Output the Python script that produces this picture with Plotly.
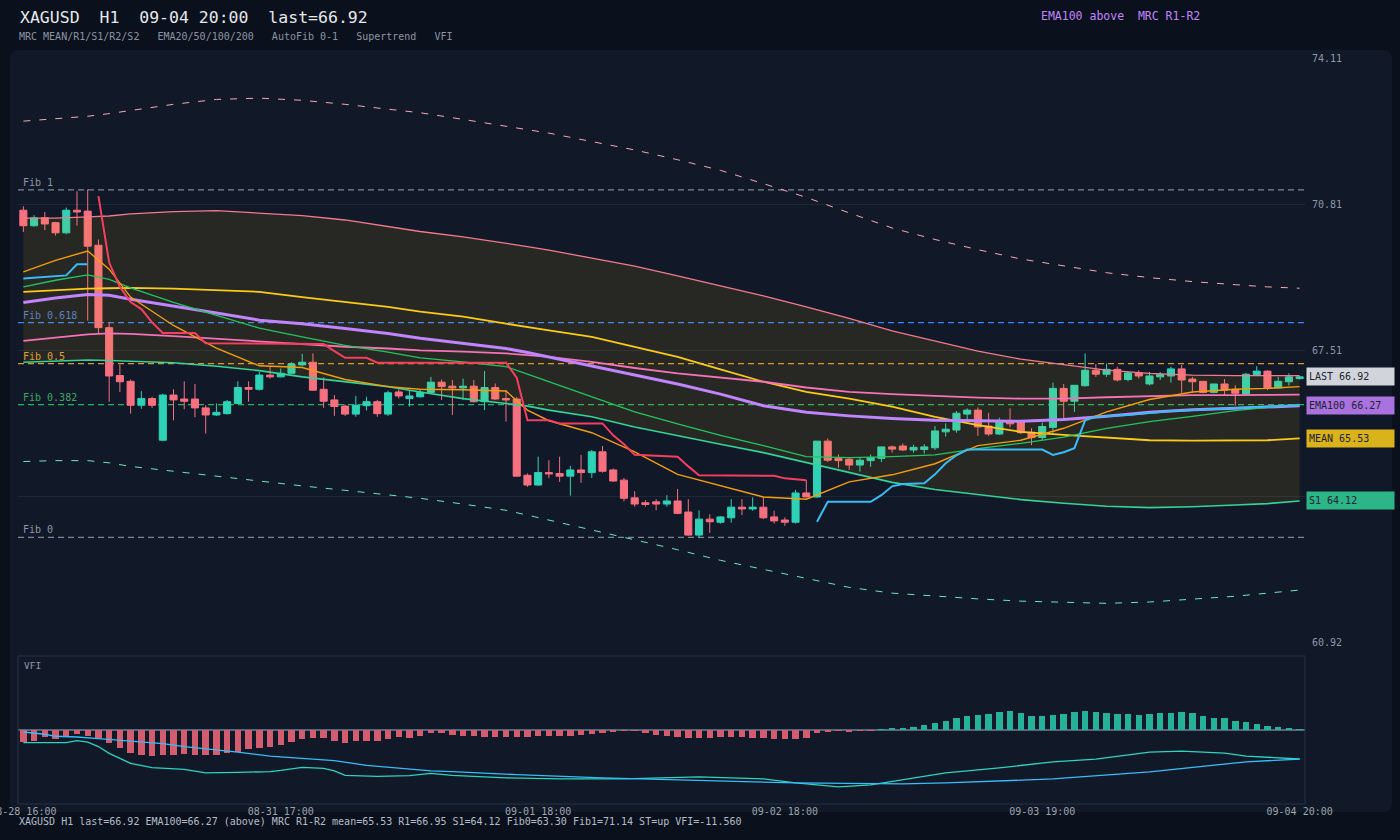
import plotly.graph_objects as go

W, H = 1400, 840
MONO = "DejaVu Sans Mono"

# ---------------- data ----------------
opens = [70.68, 70.33, 70.51, 70.40, 70.17, 70.68, 70.66, 69.89, 68.03, 66.95,
         66.82, 66.28, 66.43, 65.49, 66.51, 66.42, 66.42, 66.22, 66.06, 66.09,
         66.32, 66.68, 66.64, 66.96, 66.92, 67.00, 67.19, 67.25, 66.64, 66.40,
         66.26, 66.08, 66.27, 66.36, 66.08, 66.58, 66.43, 66.47, 66.57, 66.80,
         66.71, 66.67, 66.71, 66.36, 66.68, 66.43, 66.42, 64.70, 64.48, 64.76,
         64.74, 64.68, 64.82, 64.76, 65.23, 64.82, 64.59, 64.19, 64.08, 64.10,
         64.05, 64.12, 63.87, 63.35, 63.71, 63.64, 63.74, 63.98, 63.94, 63.98,
         63.76, 63.69, 63.64, 64.30, 64.21, 65.47, 65.08, 65.06, 64.93, 65.03,
         65.08, 65.34, 65.36, 65.27, 65.28, 65.32, 65.68, 65.72, 66.08, 66.17,
         65.81, 65.63, 65.91, 65.91, 65.67, 65.55, 65.78, 66.66, 66.37, 66.72,
         67.07, 66.98, 67.09, 66.86, 67.01, 66.76, 66.92, 66.94, 67.10, 66.87,
         66.82, 66.57, 66.76, 66.64, 66.53, 66.97, 67.05, 66.67, 66.81, 66.88]
highs = [70.77, 70.57, 70.64, 70.42, 70.74, 71.11, 71.15, 70.02, 68.16, 67.20,
         66.86, 66.60, 66.47, 66.54, 66.64, 66.82, 66.76, 66.28, 66.32, 66.40,
         66.82, 66.82, 67.03, 67.15, 67.11, 67.25, 67.44, 67.45, 66.91, 66.51,
         66.30, 66.49, 66.47, 66.40, 66.61, 66.64, 66.61, 66.64, 66.92, 66.86,
         66.85, 66.88, 66.85, 67.05, 66.77, 66.62, 66.47, 64.74, 65.12, 65.04,
         65.12, 64.91, 65.16, 65.27, 65.36, 64.85, 64.64, 64.34, 64.14, 64.16,
         64.25, 64.39, 64.16, 63.91, 63.82, 63.77, 64.16, 64.16, 64.20, 64.22,
         63.90, 63.75, 64.37, 64.59, 65.47, 65.53, 65.17, 65.10, 65.10, 65.17,
         65.34, 65.37, 65.42, 65.39, 65.40, 65.81, 65.87, 66.15, 66.21, 66.23,
         66.11, 66.00, 66.21, 65.91, 65.76, 65.89, 66.79, 66.76, 66.73, 67.45,
         67.21, 67.22, 67.15, 67.03, 67.07, 67.03, 67.03, 67.15, 67.19, 66.92,
         66.82, 66.76, 66.87, 66.73, 67.01, 67.16, 67.07, 66.92, 67.00, 66.94]
lows = [70.19, 70.31, 70.23, 70.11, 70.14, 70.33, 68.19, 67.90, 66.36, 66.58,
        66.09, 66.20, 66.22, 65.48, 65.94, 66.19, 66.01, 65.64, 66.04, 66.07,
        66.31, 66.36, 66.61, 66.88, 66.91, 66.98, 67.16, 66.61, 66.22, 66.04,
        66.04, 66.02, 66.16, 66.02, 66.04, 66.43, 66.25, 66.45, 66.55, 66.40,
        66.06, 66.40, 66.34, 66.17, 66.40, 65.91, 64.67, 64.44, 64.46, 64.64,
        64.55, 64.24, 64.53, 64.64, 64.76, 64.55, 64.11, 63.99, 63.99, 63.91,
        63.99, 63.82, 63.34, 63.28, 63.40, 63.61, 63.63, 63.80, 63.90, 63.71,
        63.61, 63.56, 63.61, 64.20, 64.19, 65.00, 64.87, 64.82, 64.78, 64.89,
        65.00, 65.21, 65.25, 65.21, 65.19, 65.27, 65.57, 65.66, 65.93, 65.59,
        65.59, 65.61, 65.78, 65.63, 65.38, 65.49, 65.63, 65.94, 66.13, 66.70,
        66.92, 66.92, 66.82, 66.82, 66.88, 66.73, 66.85, 66.79, 66.56, 66.56,
        66.55, 66.55, 66.51, 66.27, 66.51, 66.94, 66.62, 66.66, 66.72, 66.86]
closes = [70.33, 70.51, 70.37, 70.17, 70.68, 70.64, 69.87, 68.03, 66.94, 66.81,
          66.28, 66.43, 66.28, 66.51, 66.40, 66.37, 66.22, 66.06, 66.12, 66.36,
          66.68, 66.64, 66.96, 66.92, 67.00, 67.21, 67.25, 66.62, 66.37, 66.25,
          66.08, 66.28, 66.36, 66.09, 66.56, 66.49, 66.49, 66.57, 66.80, 66.70,
          66.67, 66.71, 66.36, 66.68, 66.42, 66.40, 64.68, 64.48, 64.76, 64.73,
          64.68, 64.82, 64.76, 65.23, 64.79, 64.57, 64.18, 64.05, 64.04, 64.05,
          64.12, 63.84, 63.35, 63.71, 63.65, 63.76, 63.98, 63.94, 63.98, 63.74,
          63.67, 63.64, 64.30, 64.21, 65.47, 65.04, 65.03, 64.93, 65.04, 65.10,
          65.34, 65.29, 65.27, 65.33, 65.34, 65.70, 65.74, 66.10, 66.17, 65.79,
          65.63, 65.91, 65.86, 65.66, 65.55, 65.80, 66.66, 66.37, 66.73, 67.07,
          66.98, 67.09, 66.85, 67.01, 66.94, 66.94, 66.97, 67.10, 66.85, 66.81,
          66.57, 66.76, 66.62, 66.55, 66.98, 67.05, 66.66, 66.82, 66.92, 66.92]
bars = list(range(len(closes)))

tick_idx = [0, 24, 48, 71, 95, 119]
tick_text = ["08-28 16:00", "08-31 17:00", "09-01 18:00", "09-02 18:00", "09-03 19:00", "09-04 20:00"]

# sample bars for indicator lines
ix = [0, 3, 6, 8, 10, 14, 18, 22, 26, 30, 34, 37, 41, 45, 47, 49, 53, 57, 61, 65,
      69, 73, 77, 81, 85, 89, 93, 97, 101, 105, 109, 113, 116, 119]
ema20 = [69.29, 69.55, 69.76, 69.35, 68.72, 68.08, 67.57, 67.17, 67.13, 66.86,
         66.70, 66.64, 66.63, 66.60, 66.17, 65.93, 65.66, 65.23, 64.72, 64.46,
         64.21, 64.16, 64.55, 64.71, 64.96, 65.37, 65.49, 65.76, 66.13, 66.41,
         66.58, 66.64, 66.66, 66.70]
ema50 = [68.95, 69.10, 69.22, 69.12, 68.93, 68.60, 68.31, 68.02, 67.82, 67.63,
         67.48, 67.35, 67.26, 67.15, 66.98, 66.81, 66.46, 66.13, 65.86, 65.60,
         65.37, 65.12, 65.10, 65.12, 65.16, 65.30, 65.42, 65.56, 65.76, 65.91,
         66.03, 66.16, 66.23, 66.30]
ema100 = [68.60, 68.70, 68.78, 68.76, 68.67, 68.52, 68.36, 68.20, 68.12, 68.01,
          67.90, 67.79, 67.67, 67.56, 67.47, 67.37, 67.16, 66.97, 66.76, 66.53,
          66.27, 66.12, 66.04, 65.98, 65.94, 65.93, 65.92, 65.96, 66.03, 66.12,
          66.18, 66.21, 66.24, 66.27]
ema200 = [67.73, 67.80, 67.88, 67.90, 67.89, 67.84, 67.78, 67.71, 67.65, 67.60,
          67.56, 67.52, 67.49, 67.45, 67.41, 67.37, 67.26, 67.12, 67.00, 66.90,
          66.81, 66.68, 66.58, 66.53, 66.49, 66.45, 66.43, 66.43, 66.46, 66.49,
          66.51, 66.51, 66.52, 66.52]
mrc_mean = [68.84, 68.88, 68.91, 68.92, 68.93, 68.91, 68.88, 68.84, 68.72, 68.61,
            68.50, 68.39, 68.28, 68.12, 68.05, 67.97, 67.82, 67.60, 67.37, 67.09,
            66.81, 66.58, 66.43, 66.25, 66.02, 65.83, 65.68, 65.61, 65.55, 65.49,
            65.48, 65.48, 65.49, 65.53]
mrc_r1 = [70.50, 70.50, 70.53, 70.55, 70.60, 70.65, 70.67, 70.62, 70.56, 70.46,
          70.32, 70.20, 70.08, 69.94, 69.86, 69.78, 69.60, 69.42, 69.20, 68.98,
          68.75, 68.50, 68.24, 67.96, 67.73, 67.50, 67.32, 67.19, 67.07, 67.00,
          66.96, 66.95, 66.95, 66.95]
mrc_s1 = [67.25, 67.28, 67.30, 67.29, 67.27, 67.24, 67.16, 67.06, 66.92, 66.81,
          66.70, 66.58, 66.43, 66.32, 66.26, 66.17, 66.02, 65.79, 65.59, 65.40,
          65.21, 64.99, 64.76, 64.54, 64.38, 64.26, 64.15, 64.07, 64.00, 63.97,
          63.99, 64.03, 64.06, 64.12]
mrc_r2 = [72.69, 72.74, 72.80, 72.86, 72.93, 73.07, 73.18, 73.21, 73.16, 73.07,
          72.96, 72.88, 72.73, 72.58, 72.50, 72.42, 72.23, 72.04, 71.82, 71.58,
          71.28, 70.97, 70.62, 70.28, 70.02, 69.79, 69.58, 69.43, 69.27, 69.16,
          69.07, 69.00, 68.95, 68.92]
mrc_s2 = [65.01, 65.03, 65.03, 64.98, 64.90, 64.79, 64.67, 64.57, 64.46, 64.36,
          64.26, 64.18, 64.05, 63.91, 63.80, 63.69, 63.46, 63.25, 63.02, 62.78,
          62.58, 62.38, 62.17, 62.04, 61.97, 61.91, 61.86, 61.83, 61.81, 61.84,
          61.90, 61.97, 62.04, 62.11]

# supertrend segments
st_up1_x = [0, 1, 2, 3, 4, 5, 6]
st_up1 = [69.14, 69.16, 69.18, 69.19, 69.21, 69.46, 69.46]
st_dn_x = [7, 8, 9, 10, 11, 12, 13, 16, 17, 28, 29, 30, 32, 33, 45, 46, 47, 49,
           50, 54, 55, 56, 57, 61, 62, 63, 70, 71, 73]
st_dn = [71.00, 69.50, 68.95, 68.61, 68.45, 68.15, 67.91, 67.91, 67.68, 67.66,
         67.50, 67.35, 67.35, 67.24, 67.24, 66.90, 65.94, 65.94, 65.87, 65.87,
         65.60, 65.40, 65.16, 65.12, 64.90, 64.70, 64.69, 64.63, 64.59]
st_up2_x = [74, 75, 79, 80, 81, 82, 84, 85, 86, 87, 88, 95, 96, 97, 98, 99, 100,
            103, 107, 111, 115, 119]
st_up2 = [63.65, 64.10, 64.10, 64.25, 64.45, 64.50, 64.52, 64.72, 64.97, 65.15,
          65.28, 65.28, 65.16, 65.22, 65.31, 65.94, 66.02, 66.06, 66.15, 66.19,
          66.24, 66.28]

fib_levels = [63.30, 66.295, 67.22, 68.145, 71.14]
fib_names = ["Fib 0", "Fib 0.382", "Fib 0.5", "Fib 0.618", "Fib 1"]

price_ticks = [60.92, 64.21, 67.51, 70.81, 74.11]

# VFI panel
vfi_hist = [-4.6, -4.2, -2.9, -3.5, -2.7, -1.5, -2.3, -3.1, -5.0, -7.0,
            -9.0, -9.8, -10.2, -9.8, -9.8, -9.4, -9.8, -9.8, -9.8, -9.0,
            -8.8, -7.4, -7.0, -6.6, -5.8, -4.6, -3.5, -3.1, -3.1, -4.2,
            -5.0, -4.2, -4.2, -4.2, -3.5, -2.7, -3.1, -2.3, -1.1, -1.1,
            -2.0, -2.2, -2.5, -2.6, -2.8, -2.8, -2.6, -2.6, -2.5, -2.5,
            -2.4, -2.2, -2.0, -1.6, -1.2, -0.6, -0.3, -0.3, -1.2, -2.0,
            -2.2, -2.6, -3.0, -3.2, -3.0, -2.8, -2.6, -2.8, -3.0, -3.2,
            -3.5, -3.6, -3.4, -3.0, -1.2, -0.6, -0.4, -0.6, -0.3, -0.2,
            0.2, 0.5, 0.8, 1.2, 2.0, 2.8, 3.6, 4.6, 5.4, 6.0,
            6.5, 7.2, 7.6, 6.8, 5.6, 5.4, 5.8, 6.4, 7.2, 7.4,
            7.2, 6.8, 6.4, 6.2, 6.0, 6.2, 6.6, 6.8, 7.0, 6.6,
            5.4, 4.8, 4.6, 3.6, 3.0, 2.4, 1.6, 1.0, 0.6, 0.4]
vfi_x = [0, 2, 4, 5, 6, 7, 8, 10, 11, 12, 15, 17, 20, 23, 24, 26, 28, 29, 30, 33,
         36, 38, 40, 45, 50, 56, 63, 69, 72, 76, 79, 82, 86, 91, 96, 100, 105, 108,
         112, 114, 119]
vfi_line = [-5.05, -5.0, -5.05, -4.25, -4.8, -6.6, -9.3, -13.3, -14.3, -15.0,
            -15.7, -17.1, -16.9, -16.6, -16.1, -14.9, -15.3, -16.3, -18.1, -18.5,
            -18.2, -17.3, -18.1, -19.1, -19.5, -19.5, -18.7, -19.5, -21.1, -22.7,
            -21.9, -19.9, -17.1, -15.1, -12.7, -11.6, -8.8, -8.4, -9.2, -10.4,
            -11.56]
sig_x = [0, 2, 3, 5, 7, 9, 11, 13, 15, 17, 20, 23, 26, 29, 32, 35, 38, 40, 46, 54,
         63, 72, 82, 86, 96, 105, 114, 119]
sig_line = [-0.8, -1.7, -2.5, -2.8, -3.45, -4.1, -4.6, -5.4, -6.6, -7.4,
            -8.8, -10.4, -11.3, -12.2, -14.1, -15.1, -16.3, -16.6, -17.8, -19.1,
            -20.2, -21.1, -21.5, -21.1, -19.5, -16.7, -12.7, -11.6]

# ---------------- styling ----------------
PAGE_BG = "#0b111c"
PANEL_BG = "#111827"
UP = "#2ed3b7"
DOWN = "#f6707f"


def px(x):
    return x / W


def py(y):
    return 1 - y / H


fig = go.Figure()

# MRC band (R1 -> S1 fill)
fig.add_trace(go.Scatter(x=ix, y=mrc_r1, mode="lines", line=dict(color="#f27a8c", width=1.3),
                         hoverinfo="skip", xaxis="x", yaxis="y"))
fig.add_trace(go.Scatter(x=ix, y=mrc_s1, mode="lines", line=dict(color="#34d399", width=1.6),
                         fill="tonexty", fillcolor="rgba(234,179,8,0.10)",
                         hoverinfo="skip", xaxis="x", yaxis="y"))
fig.add_trace(go.Scatter(x=ix, y=mrc_r2, mode="lines",
                         line=dict(color="#f9a8b4", width=1, dash="7px,9px"),
                         hoverinfo="skip", xaxis="x", yaxis="y"))
fig.add_trace(go.Scatter(x=ix, y=mrc_s2, mode="lines",
                         line=dict(color="#6ee7b7", width=1, dash="7px,9px"),
                         hoverinfo="skip", xaxis="x", yaxis="y"))
fig.add_trace(go.Scatter(x=ix, y=mrc_mean, mode="lines", line=dict(color="#facc15", width=1.8),
                         hoverinfo="skip", xaxis="x", yaxis="y"))
fig.add_trace(go.Scatter(x=ix, y=ema200, mode="lines", line=dict(color="#f472b6", width=1.8),
                         hoverinfo="skip", xaxis="x", yaxis="y"))
fig.add_trace(go.Scatter(x=ix, y=ema100, mode="lines", line=dict(color="#c084fc", width=3),
                         hoverinfo="skip", xaxis="x", yaxis="y"))
fig.add_trace(go.Scatter(x=ix, y=ema50, mode="lines", line=dict(color="#22c55e", width=1.3),
                         hoverinfo="skip", xaxis="x", yaxis="y"))
fig.add_trace(go.Scatter(x=ix, y=ema20, mode="lines", line=dict(color="#f59e0b", width=1.4),
                         hoverinfo="skip", xaxis="x", yaxis="y"))
# Supertrend
fig.add_trace(go.Scatter(x=st_up1_x, y=st_up1, mode="lines", line=dict(color="#38bdf8", width=2),
                         hoverinfo="skip", xaxis="x", yaxis="y"))
fig.add_trace(go.Scatter(x=st_dn_x, y=st_dn, mode="lines", line=dict(color="#f43f5e", width=2),
                         hoverinfo="skip", xaxis="x", yaxis="y"))
fig.add_trace(go.Scatter(x=st_up2_x, y=st_up2, mode="lines", line=dict(color="#38bdf8", width=2),
                         hoverinfo="skip", xaxis="x", yaxis="y"))

# candles
fig.add_trace(go.Candlestick(
    x=bars, open=opens, high=highs, low=lows, close=closes,
    increasing=dict(line=dict(color=UP, width=1), fillcolor=UP),
    decreasing=dict(line=dict(color=DOWN, width=1), fillcolor=DOWN),
    whiskerwidth=0, xaxis="x", yaxis="y", hoverinfo="skip"))

# VFI panel
fig.add_trace(go.Bar(x=bars, y=vfi_hist, width=0.6,
                     marker=dict(color=["#26b29a" if v >= 0 else "#d35d6e" for v in vfi_hist],
                                 line=dict(width=0)),
                     xaxis="x2", yaxis="y2", hoverinfo="skip"))
fig.add_trace(go.Scatter(x=vfi_x, y=vfi_line, mode="lines", line=dict(color="#2dd4bf", width=1.3),
                         xaxis="x2", yaxis="y2", hoverinfo="skip"))
fig.add_trace(go.Scatter(x=sig_x, y=sig_line, mode="lines", line=dict(color="#38bdf8", width=1.3),
                         xaxis="x2", yaxis="y2", hoverinfo="skip"))

# ---------------- shapes ----------------
r = 9
x0p, x1p, y0p, y1p = 10, 1392, 50, 812
panel_path = (
    f"M {px(x0p + r)},{py(y0p)} L {px(x1p - r)},{py(y0p)} Q {px(x1p)},{py(y0p)} {px(x1p)},{py(y0p + r)} "
    f"L {px(x1p)},{py(y1p - r)} Q {px(x1p)},{py(y1p)} {px(x1p - r)},{py(y1p)} "
    f"L {px(x0p + r)},{py(y1p)} Q {px(x0p)},{py(y1p)} {px(x0p)},{py(y1p - r)} "
    f"L {px(x0p)},{py(y0p + r)} Q {px(x0p)},{py(y0p)} {px(x0p + r)},{py(y0p)} Z"
)
shapes = [dict(type="path", path=panel_path, xref="paper", yref="paper",
               fillcolor=PANEL_BG, line=dict(width=0), layer="below")]

fib_line_colors = ["#7d8696", "#22b35e", "#d9962a", "#3b82f6", "#7d8696"]
fib_text_colors = ["#8f97a6", "#3aa865", "#e0a030", "#5b82c0", "#8f97a6"]
for lvl, col in zip(fib_levels, fib_line_colors):
    shapes.append(dict(type="line", xref="paper", yref="y", x0=px(18), x1=px(1305), y0=lvl, y1=lvl,
                       line=dict(color=col, width=1.2, dash="6px,4px"), layer="below"))

shapes.append(dict(type="rect", xref="paper", yref="paper", x0=px(18), x1=px(1305),
                   y0=py(804), y1=py(656), line=dict(color="#263244", width=1),
                   fillcolor="rgba(0,0,0,0)", layer="above"))

# ---------------- annotations ----------------
NB = "\u00a0"
ann = []
ann.append(dict(text=f"XAGUSD{NB*2}H1{NB*2}09-04 20:00{NB*2}last=66.92", x=px(18), y=py(17),
                xref="paper", yref="paper", xanchor="left", yanchor="middle", showarrow=False,
                font=dict(family=MONO, size=16.5, color="#e5e7eb")))
ann.append(dict(text=f"MRC MEAN/R1/S1/R2/S2{NB*3}EMA20/50/100/200{NB*3}AutoFib 0-1{NB*3}Supertrend{NB*3}VFI",
                x=px(17), y=py(37), xref="paper", yref="paper", xanchor="left", yanchor="middle",
                showarrow=False, font=dict(family=MONO, size=10, color="#8b93a3")))
ann.append(dict(text=f"EMA100 above{NB*2}MRC R1-R2", x=px(1039), y=py(16), xref="paper", yref="paper",
                xanchor="left", yanchor="middle", showarrow=False,
                font=dict(family=MONO, size=11.5, color="#c084fc")))
ann.append(dict(text="XAGUSD H1 last=66.92 EMA100=66.27 (above) MRC R1-R2 mean=65.53 R1=66.95 "
                     "S1=64.12 Fib0=63.30 Fib1=71.14 ST=up VFI=-11.560",
                x=px(17), y=py(821), xref="paper", yref="paper", xanchor="left", yanchor="middle",
                showarrow=False, font=dict(family=MONO, size=10, color="#b4bcc8")))
for lvl, name, col in zip(fib_levels, fib_names, fib_text_colors):
    ann.append(dict(text=name, x=px(21), y=lvl, xref="paper", yref="y", xanchor="left",
                    yanchor="bottom", yshift=0, showarrow=False,
                    font=dict(family=MONO, size=10, color=col)))
ann.append(dict(text="VFI", x=px(22), y=py(665), xref="paper", yref="paper", xanchor="left",
                yanchor="middle", showarrow=False, font=dict(family=MONO, size=9.5, color="#8f97a6")))

tags = [("LAST 66.92", 66.92, "#d1d5db"), ("EMA100 66.27", 66.27, "#a972df"),
        ("MEAN 65.53", 65.53, "#dab21b"), ("S1 64.12", 64.12, "#2cb587")]
for txt, val, bg in tags:
    ann.append(dict(text=txt, x=px(1306), y=val, xref="paper", yref="y", xanchor="left",
                    yanchor="middle", showarrow=False, bgcolor=bg, width=83, height=13,
                    borderpad=2, align="left",
                    font=dict(family=MONO, size=10, color="#1e2430")))

fig.update_layout(
    width=W, height=H, margin=dict(l=0, r=0, t=0, b=0, autoexpand=False),
    paper_bgcolor=PAGE_BG, plot_bgcolor="rgba(0,0,0,0)",
    showlegend=False, shapes=shapes, annotations=ann, bargap=0,
    boxgap=0.34, boxgroupgap=0,
    xaxis=dict(domain=[px(18), px(1305)], range=[-0.5, 119.5], anchor="y", automargin=False,
               showticklabels=False, showgrid=False, zeroline=False,
               rangeslider=dict(visible=False), fixedrange=True),
    yaxis=dict(domain=[py(643), py(58)], range=[60.915, 74.115], anchor="x", side="right",
               automargin=False,
               tickmode="array", tickvals=price_ticks, ticktext=[f"{v:.2f}" for v in price_ticks],
               showgrid=True, gridcolor="#1d2737", gridwidth=1, zeroline=False, ticks="",
               ticklabelstandoff=6, tickfont=dict(family=MONO, size=10, color="#8f97a6"),
               fixedrange=True),
    xaxis2=dict(domain=[px(18), px(1305)], range=[-0.5, 119.5], anchor="y2", automargin=False,
                tickmode="array", tickvals=tick_idx, ticktext=tick_text, showgrid=False,
                zeroline=False, ticks="", ticklabeloverflow="allow",
                tickfont=dict(family=MONO, size=10, color="#9ca3af"), fixedrange=True),
    yaxis2=dict(domain=[py(804), py(656)], range=[-29.5, 29.5], anchor="x2", automargin=False,
                showticklabels=False, showgrid=False, zeroline=True,
                zerolinecolor="#56667c", zerolinewidth=1.5, fixedrange=True),
)

fig.write_html("out.html")
